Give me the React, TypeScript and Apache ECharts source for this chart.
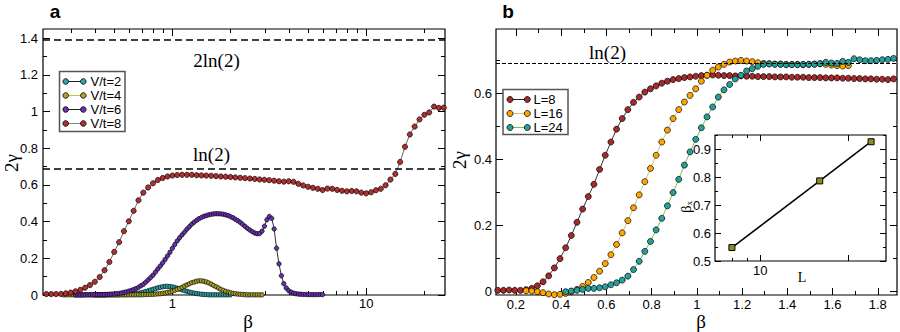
import { useEffect, useRef } from 'react';
import * as echarts from 'echarts';

// ---------------- Panel a data (beta on log axis) ----------------
const betaA = [
  0.2239, 0.2371, 0.2512, 0.2661, 0.2818, 0.2985, 0.3162, 0.335, 0.3548, 0.3758,
  0.3981, 0.4217, 0.4467, 0.4732, 0.5012, 0.5309, 0.5623, 0.5957, 0.631, 0.6683,
  0.7079, 0.7499, 0.7943, 0.8414, 0.8913, 0.9441, 1.0, 1.059, 1.122, 1.189,
  1.259, 1.334, 1.413, 1.496, 1.585, 1.679, 1.778, 1.884, 1.995, 2.113,
  2.239, 2.371, 2.512, 2.661, 2.818, 2.985, 3.162, 3.35, 3.548, 3.758,
  3.981, 4.217, 4.467, 4.732, 5.012, 5.309, 5.623, 5.957, 6.31, 6.683,
  7.079, 7.499, 7.943, 8.414, 8.913, 9.441, 10.0, 10.59, 11.22, 11.89,
  12.59, 13.34, 14.13, 14.96, 15.85, 16.79, 17.78, 18.84, 19.95, 21.13,
  22.39, 23.71, 25.12,
];
const vt8 = [
  0.005, 0.005, 0.005, 0.006, 0.009, 0.013, 0.02, 0.028, 0.04, 0.054,
  0.072, 0.098, 0.135, 0.18, 0.235, 0.288, 0.348, 0.402, 0.459, 0.516,
  0.558, 0.586, 0.609, 0.627, 0.638, 0.646, 0.651, 0.654, 0.655, 0.655,
  0.655, 0.653, 0.652, 0.651, 0.65, 0.648, 0.646, 0.645, 0.643, 0.641,
  0.639, 0.637, 0.635, 0.633, 0.63, 0.628, 0.626, 0.623, 0.62, 0.618,
  0.62, 0.617, 0.606, 0.597, 0.59, 0.584, 0.579, 0.572, 0.58, 0.579,
  0.573, 0.568, 0.565, 0.567, 0.565, 0.558, 0.554, 0.56, 0.571, 0.579,
  0.598, 0.629, 0.66, 0.725, 0.808, 0.875, 0.918, 0.957, 0.982, 0.995,
  1.027, 1.02, 1.021,
];
const betaFine = [
  0.2738, 0.2818, 0.2901, 0.2985, 0.3073,
  0.3162, 0.3255, 0.335, 0.3447, 0.3548, 0.3652, 0.3758, 0.3868, 0.3981, 0.4097,
  0.4217, 0.434, 0.4467, 0.4597, 0.4732, 0.487, 0.5012, 0.5158, 0.5309, 0.5464,
  0.5623, 0.5788, 0.5957, 0.6131, 0.631, 0.6494, 0.6683, 0.6879, 0.7079, 0.7286,
  0.7499, 0.7718, 0.7943, 0.8175, 0.8414, 0.866, 0.8913, 0.9173, 0.9441, 0.9716,
  1.0, 1.029, 1.059, 1.09, 1.122, 1.155, 1.189, 1.223, 1.259, 1.296,
  1.334, 1.372, 1.413, 1.454, 1.496, 1.54, 1.585, 1.631, 1.679, 1.728,
  1.778, 1.83, 1.884, 1.939, 1.995, 2.054, 2.113, 2.175, 2.239, 2.304,
  2.371, 2.441, 2.512, 2.585, 2.661, 2.738, 2.818, 2.901, 2.985, 3.073,
  3.162, 3.255, 3.35, 3.447, 3.548, 3.652, 3.758, 3.868, 3.981, 4.097,
  4.217, 4.34, 4.467, 4.597, 4.732, 4.87, 5.012, 5.158, 5.309, 5.464,
  5.623, 5.788, 5.957,
];
const vt6 = [
  null, null, null, null, null,
  0.0, 0.0, 0.0, 0.0, 0.001, 0.001, 0.001, 0.001, 0.002, 0.002,
  0.002, 0.002, 0.003, 0.003, 0.004, 0.005, 0.006, 0.008, 0.009, 0.011,
  0.014, 0.017, 0.021, 0.025, 0.03, 0.035, 0.042, 0.05, 0.058, 0.07,
  0.082, 0.095, 0.108, 0.125, 0.142, 0.158, 0.175, 0.194, 0.213, 0.233,
  0.255, 0.275, 0.295, 0.312, 0.328, 0.343, 0.359, 0.372, 0.386, 0.397,
  0.407, 0.416, 0.423, 0.429, 0.433, 0.437, 0.44, 0.442, 0.443, 0.443,
  0.442, 0.44, 0.437, 0.433, 0.427, 0.421, 0.413, 0.405, 0.396, 0.385,
  0.374, 0.363, 0.354, 0.345, 0.338, 0.334, 0.335, 0.348, 0.375, 0.41,
  0.428, 0.418, 0.36, 0.255, 0.17, 0.105, 0.062, 0.038, 0.024, 0.015,
  0.01, 0.007, 0.005, 0.004, 0.003, 0.003, 0.002, 0.002, 0.002, 0.002,
  0.002, 0.003, 0.002,
];
const vt2 = [
  null, null, null, null, null,
  null, null, null, null, null, null, null, null, 0.0, 0.0,
  0.0, 0.0, 0.0, 0.001, 0.001, 0.001, 0.001, 0.001, 0.001, 0.002,
  0.002, 0.002, 0.003, 0.004, 0.005, 0.007, 0.009, 0.012, 0.015, 0.019,
  0.023, 0.027, 0.031, 0.035, 0.039, 0.042, 0.045, 0.047, 0.047, 0.046,
  0.044, 0.041, 0.037, 0.033, 0.028, 0.024, 0.02, 0.016, 0.013, 0.01,
  0.008, 0.006, 0.004, 0.003, 0.002, 0.001, 0.001, 0.001, 0.001, 0.001,
  0.001, 0.001, 0.001, 0.001, 0.001, null, null, null, null, null,
  null, null, null, null, null, null, null, null, null, null,
  null, null, null, null, null, null, null, null, null, null,
  null, null, null, null, null, null, null, null, null, null,
  null, null, null,
];
const vt4 = [
  0.001, 0.001, 0.001, 0.001, 0.001,
  0.001, 0.001, 0.001, 0.001, 0.001, 0.001, 0.001, 0.001, 0.001, 0.001,
  0.001, 0.001, 0.001, 0.001, 0.001, 0.001, 0.001, 0.001, 0.001, 0.001,
  0.001, 0.001, 0.001, 0.001, 0.001, 0.001, 0.001, 0.001, 0.002, 0.002,
  0.003, 0.003, 0.004, 0.005, 0.006, 0.007, 0.009, 0.011, 0.014, 0.017,
  0.021, 0.026, 0.031, 0.036, 0.042, 0.049, 0.055, 0.061, 0.067, 0.071,
  0.075, 0.077, 0.077, 0.075, 0.071, 0.066, 0.059, 0.052, 0.045, 0.038,
  0.031, 0.025, 0.02, 0.016, 0.012, 0.009, 0.007, 0.005, 0.004, 0.003,
  0.002, 0.001, 0.001, 0.001, 0.001, 0.001, 0.001, 0.001, null, null,
  null, null, null, null, null, null, null, null, null, null,
  null, null, null, null, null, null, null, null, null, null,
  null, null, null,
];

// ---------------- Panel b data ----------------
const betaB = [
  0.12, 0.145, 0.17, 0.195, 0.22, 0.245, 0.27, 0.295, 0.32, 0.345,
  0.37, 0.395, 0.42, 0.445, 0.47, 0.495, 0.52, 0.545, 0.57, 0.595,
  0.62, 0.645, 0.67, 0.695, 0.72, 0.745, 0.77, 0.795, 0.82, 0.845,
  0.87, 0.895, 0.92, 0.945, 0.97, 0.995, 1.02, 1.045, 1.07, 1.095,
  1.12, 1.145, 1.17, 1.195, 1.22, 1.245, 1.27, 1.295, 1.32, 1.345,
  1.37, 1.395, 1.42, 1.445, 1.47, 1.495, 1.52, 1.545, 1.57, 1.595,
  1.62, 1.645, 1.67, 1.695, 1.72, 1.745, 1.77, 1.795, 1.82, 1.845,
  1.87,
];
const L8 = [
  0.004, 0.004, 0.005, 0.004, 0.004, 0.006, 0.01, 0.018, 0.03, 0.048,
  0.072, 0.1, 0.133, 0.17, 0.21, 0.25, 0.288, 0.325, 0.37, 0.413,
  0.453, 0.492, 0.524, 0.551, 0.573, 0.589, 0.604, 0.614, 0.623, 0.631,
  0.637, 0.642, 0.645, 0.648, 0.65, 0.652, 0.654, 0.655, 0.656, 0.655,
  0.654, 0.654, 0.653, 0.653, 0.652, 0.652, 0.651, 0.651, 0.651, 0.65,
  0.65, 0.65, 0.649, 0.649, 0.649, 0.648, 0.648, 0.648, 0.647, 0.647,
  0.647, 0.646, 0.646, 0.645, 0.645, 0.644, 0.644, 0.643, 0.643, 0.642,
  0.644,
];
const L16 = [
  null, null, null, null, null, 0.003, 0.002, 0.0, -0.003, -0.007,
  -0.009, -0.008, -0.005, 0.0, 0.007, 0.016, 0.028, 0.043, 0.062, 0.085,
  0.112, 0.143, 0.178, 0.215, 0.254, 0.293, 0.333, 0.373, 0.413, 0.453,
  0.489, 0.524, 0.551, 0.574, 0.594, 0.614, 0.637, 0.655, 0.67, 0.68,
  0.688, 0.695, 0.698, 0.7, 0.698, 0.696, 0.693, 0.691, 0.69, 0.689,
  0.689, 0.688, 0.688, 0.688, 0.687, 0.688, 0.689, 0.69, 0.688, 0.686,
  0.684, 0.683, 0.684, null, null, null, null, null, null, null,
  null,
];
const L24 = [
  null, null, null, null, null, null, null, null, null, null,
  null, null, 0.0, 0.002, 0.004, 0.007, 0.01, 0.01, 0.012, 0.015,
  0.021, 0.027, 0.035, 0.047, 0.067, 0.092, 0.122, 0.152, 0.187, 0.222,
  0.26, 0.3, 0.34, 0.383, 0.423, 0.461, 0.496, 0.529, 0.559, 0.589,
  0.611, 0.627, 0.644, 0.655, 0.668, 0.675, 0.682, 0.688, 0.689, 0.688,
  0.688, 0.687, 0.687, 0.687, 0.688, 0.688, 0.688, 0.69, 0.694, 0.692,
  0.691, 0.697, 0.694, 0.705, 0.702, 0.699, 0.699, 0.7, 0.702, 0.703,
  0.706,
];

// ---------------- Inset data ----------------
const insetL = [8, 16, 24];
const insetBetaX = [0.548, 0.786, 0.926];

// reference (dashed) levels
const refLinesA = [2 * Math.LN2, Math.LN2];
const refLinesB = [Math.LN2];

// ---------------- Tick values ----------------
const axMajorX = [1, 10];
const axMinorX = [0.3, 0.4, 0.5, 0.6, 0.7, 0.8, 0.9, 2, 3, 4, 5, 6, 7, 8, 9, 20];
const axMajorY = [0, 0.2, 0.4, 0.6, 0.8, 1, 1.2, 1.4];
const axMinorY = [0.1, 0.3, 0.5, 0.7, 0.9, 1.1, 1.3];
const bxMajorX = [0.2, 0.4, 0.6, 0.8, 1, 1.2, 1.4, 1.6, 1.8];
const bxMinorX = [0.3, 0.5, 0.7, 0.9, 1.1, 1.3, 1.5, 1.7];
const byMajorY = [0, 0.2, 0.4, 0.6];
const byMinorY = [0.1, 0.3, 0.5, 0.7];
const inMajorX = [10, 20];
const inMinorX = [8, 9];
const inLabelX = [10];
const inMajorY = [0.5, 0.6, 0.7, 0.8, 0.9];
const inMinorY = [0.55, 0.65, 0.75, 0.85, 0.95];

const SANS = '"Liberation Sans", Arial, Helvetica, sans-serif';
const SERIF = '"Liberation Serif", "Times New Roman", Times, serif';

const fmt = (v: number) => String(Number(Number(v).toFixed(3)));

function axisSet(
  kind: 'x' | 'y', grid: number, type: string, min: number, max: number,
  major: number[], minor: number[], labels: number[], margin: number,
  majorLen: number, minorLen: number,
) {
  const main = kind === 'x' ? 'bottom' : 'left';
  const mirror = kind === 'x' ? 'top' : 'right';
  const base: any = {
    type, gridIndex: grid, min, max,
    splitLine: { show: false }, splitArea: { show: false },
    axisLine: { show: false, onZero: false }, minorTick: { show: false },
    axisPointer: { show: false }, silent: true,
  };
  if (type === 'log') base.logBase = 10;
  const mk = (position: string, len: number, vals: number[], withLabels: boolean) => ({
    ...base,
    position,
    axisTick: { show: true, inside: true, length: len, customValues: vals, lineStyle: { color: '#000', width: 1 } },
    axisLabel: withLabels
      ? { show: true, customValues: labels, margin, fontSize: 13, color: '#000', fontFamily: SANS, formatter: fmt }
      : { show: false },
  });
  return [
    mk(main, majorLen, major, true),
    mk(main, minorLen, minor, false),
    mk(mirror, majorLen, major, false),
    mk(mirror, minorLen, minor, false),
  ];
}

function pairs(xs: number[], ys: (number | null)[]) {
  const out: number[][] = [];
  xs.forEach((x, i) => {
    const y = ys[i];
    if (y !== null && y !== undefined) out.push([x, y]);
  });
  return out;
}

function dotSeries(name: string, xi: number, data: number[][], color: string, lineColor: string, size: number, extra: any = {}) {
  return {
    name, type: 'line', xAxisIndex: xi, yAxisIndex: xi, data,
    symbol: 'circle', symbolSize: size, showSymbol: true,
    itemStyle: { color, borderColor: '#000', borderWidth: 0.7 },
    lineStyle: { color: lineColor, width: 1 },
    emphasis: { disabled: true },
    ...extra,
  };
}

function legendGraphic(x: number, y: number, w: number, h: number, rows: { label: string; color: string; line: string }[], rowY: number[], c1: number, c2: number, tx: number, r: number) {
  const els: any[] = [
    { type: 'rect', z: 100, shape: { x, y, width: w, height: h }, style: { fill: '#fff', stroke: '#555', lineWidth: 1.5 } },
  ];
  rows.forEach((row, i) => {
    const yy = rowY[i];
    els.push({ type: 'line', z: 101, shape: { x1: c1, y1: yy, x2: c2, y2: yy }, style: { stroke: row.line, lineWidth: 1 } });
    els.push({ type: 'circle', z: 102, shape: { cx: c1, cy: yy, r }, style: { fill: row.color, stroke: '#000', lineWidth: 0.8 } });
    els.push({ type: 'circle', z: 102, shape: { cx: c2, cy: yy, r }, style: { fill: row.color, stroke: '#000', lineWidth: 0.8 } });
    els.push({ type: 'text', z: 102, x: tx, y: yy, style: { text: row.label, fill: '#000', font: `13px ${SANS}`, align: 'left', verticalAlign: 'middle' } });
  });
  return els;
}

const C_TEAL = '#2ea6a6';
const C_OLIVE = '#aba22a';
const C_PURPLE = '#6a31b2';
const C_RED = '#b03030';
const C_BROWN = '#a52a2a';
const C_ORANGE = '#ffa500';
const C_TEAL2 = '#26a09c';
const C_SQUARE = '#8f8c22';

export default function App() {
  const ref = useRef<HTMLDivElement>(null);
  useEffect(() => {
    document.body.style.margin = '0';
    const chart = echarts.init(ref.current!, null, { renderer: 'svg' });

    const xAxis = [
      ...axisSet('x', 0, 'log', 0.215, 25.5, axMajorX, axMinorX, axMajorX, 2, 7, 4),
      ...axisSet('x', 1, 'value', 0.112, 1.885, bxMajorX, bxMinorX, bxMajorX, 3, 7, 4),
      ...axisSet('x', 2, 'log', 7, 27, inMajorX, inMinorX, inLabelX, 3, 6, 3),
    ];
    const yAxis = [
      ...axisSet('y', 0, 'value', 0, 1.45, axMajorY, axMinorY, axMajorY, 5, 7, 4),
      ...axisSet('y', 1, 'value', -0.01, 0.795, byMajorY, byMinorY, byMajorY, 4, 7, 4),
      ...axisSet('y', 2, 'value', 0.5, 0.95, inMajorY, inMinorY, inMajorY, 4, 6, 3),
    ];

    const option: any = {
      animation: false,
      backgroundColor: '#fff',
      grid: [
        { left: 43, top: 29, width: 402, height: 266, show: true, borderColor: '#000', borderWidth: 1.2, backgroundColor: 'rgba(0,0,0,0)' },
        { left: 496, top: 29, width: 401, height: 266, show: true, borderColor: '#000', borderWidth: 1.2, backgroundColor: 'rgba(0,0,0,0)' },
        { left: 715, top: 135, width: 171, height: 126, show: true, borderColor: '#000', borderWidth: 1.2, backgroundColor: '#fff' },
      ],
      xAxis,
      yAxis,
      series: [
        dotSeries('V/t=2', 0, pairs(betaFine, vt2), C_TEAL, '#333', 4.4),
        dotSeries('V/t=4', 0, pairs(betaFine, vt4), C_OLIVE, '#b8b040', 4.4),
        dotSeries('V/t=6', 0, pairs(betaFine, vt6), C_PURPLE, '#333', 4.4),
        dotSeries('V/t=8', 0, pairs(betaA, vt8), C_RED, '#666', 5.2, {
          markLine: {
            silent: true, symbol: 'none', label: { show: false },
            lineStyle: { type: [7, 4], color: '#000', width: 1.5 },
            data: refLinesA.map((v) => ({ yAxis: v })),
          },
        }),
        dotSeries('L=8', 4, pairs(betaB, L8), C_BROWN, '#333', 6, {
          markLine: {
            silent: true, symbol: 'none', label: { show: false },
            lineStyle: { type: [4, 2], color: '#000', width: 1 },
            data: refLinesB.map((v) => ({ yAxis: v })),
          },
        }),
        dotSeries('L=16', 4, pairs(betaB, L16), C_ORANGE, '#c8c878', 6),
        dotSeries('L=24', 4, pairs(betaB, L24), C_TEAL2, '#7dbf4f', 6),
        {
          name: 'inset', type: 'line', xAxisIndex: 8, yAxisIndex: 8,
          data: pairs(insetL, insetBetaX),
          symbol: 'rect', symbolSize: 6,
          itemStyle: { color: C_SQUARE, borderColor: '#000', borderWidth: 1 },
          lineStyle: { color: '#000', width: 1.5 },
          emphasis: { disabled: true },
        },
      ],
      graphic: [
        { type: 'text', x: 55, y: 11, style: { text: 'a', font: `bold 19px ${SANS}`, fill: '#000', align: 'center', verticalAlign: 'middle' } },
        { type: 'text', x: 508, y: 11, style: { text: 'b', font: `bold 19px ${SANS}`, fill: '#000', align: 'center', verticalAlign: 'middle' } },
        { type: 'text', x: 216.5, y: 60, style: { text: '2ln(2)', font: `19px ${SERIF}`, fill: '#000', align: 'center', verticalAlign: 'middle' } },
        { type: 'text', x: 211.5, y: 154, style: { text: 'ln(2)', font: `19px ${SERIF}`, fill: '#000', align: 'center', verticalAlign: 'middle' } },
        { type: 'text', x: 607.5, y: 52, style: { text: 'ln(2)', font: `19px ${SERIF}`, fill: '#000', align: 'center', verticalAlign: 'middle' } },
        { type: 'text', x: 11, y: 163, rotation: Math.PI / 2, style: { text: '2γ', font: `19px ${SERIF}`, fill: '#000', align: 'center', verticalAlign: 'middle' } },
        { type: 'text', x: 459, y: 160, rotation: Math.PI / 2, style: { text: '2γ', font: `19px ${SERIF}`, fill: '#000', align: 'center', verticalAlign: 'middle' } },
        { type: 'text', x: 248, y: 321, style: { text: 'β', font: `19px ${SERIF}`, fill: '#000', align: 'center', verticalAlign: 'middle' } },
        { type: 'text', x: 701, y: 321.5, style: { text: 'β', font: `19px ${SERIF}`, fill: '#000', align: 'center', verticalAlign: 'middle' } },
        { type: 'text', x: 802, y: 277, style: { text: 'L', font: `14px ${SERIF}`, fill: '#000', align: 'center', verticalAlign: 'middle' } },
        {
          type: 'text', x: 686, y: 207, rotation: Math.PI / 2,
          style: {
            text: '{a|β}{b|x}', fill: '#000', align: 'center', verticalAlign: 'middle',
            rich: { a: { fontFamily: SERIF, fontSize: 15, fill: '#000' }, b: { fontFamily: SERIF, fontSize: 9, fill: '#000', padding: [6, 0, 0, 0] } },
          },
        },
        ...legendGraphic(59.5, 71.5, 65.5, 60, [
          { label: 'V/t=2', color: C_TEAL, line: '#222' },
          { label: 'V/t=4', color: C_OLIVE, line: '#c8c040' },
          { label: 'V/t=6', color: C_PURPLE, line: '#222' },
          { label: 'V/t=8', color: C_RED, line: '#888' },
        ], [81.5, 95.5, 109.5, 123.5], 65.7, 83.3, 90.5, 2.8),
        ...legendGraphic(503, 89.5, 65, 45, [
          { label: 'L=8', color: C_BROWN, line: '#222' },
          { label: 'L=16', color: C_ORANGE, line: '#c8c878' },
          { label: 'L=24', color: C_TEAL2, line: '#7dbf4f' },
        ], [99.5, 113.5, 127.5], 510, 527.3, 533.5, 3),
      ],
    };
    chart.setOption(option);
    return () => chart.dispose();
  }, []);
  return <div ref={ref} style={{ position: 'absolute', left: 0, top: 0, width: 900, height: 332 }} />;
}
